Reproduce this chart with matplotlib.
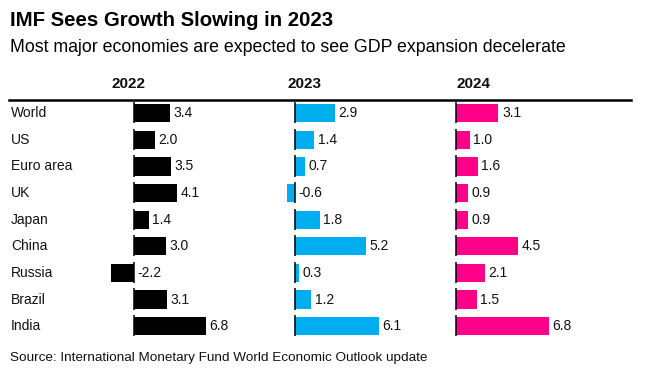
import matplotlib
matplotlib.use("Agg")
import matplotlib.pyplot as plt

plt.rcParams['font.family'] = ['Liberation Sans', 'DejaVu Sans']

countries = ["World", "US", "Euro area", "UK", "Japan", "China", "Russia", "Brazil", "India"]
years = ["2022", "2023", "2024"]
growth_2022 = [3.4, 2.0, 3.5, 4.1, 1.4, 3.0, -2.2, 3.1, 6.8]
growth_2023 = [2.9, 1.4, 0.7, -0.6, 1.8, 5.2, 0.3, 1.2, 6.1]
growth_2024 = [3.1, 1.0, 1.6, 0.9, 0.9, 4.5, 2.1, 1.5, 6.8]
colors = ["#000000", "#00aeef", "#ff0088"]

W, H = 651, 386
fig = plt.figure(figsize=(W / 100, H / 100), dpi=100)

def fx(px):
    return px / W

def fy(py):
    return 1 - py / H

# column layout in pixels: left, right, zero position, px per unit
cols = [(100, 262, 134, 10.6), (270, 432, 295, 13.7), (440, 631, 456, 13.7)]
header_x = [129, 305, 474]
top, row_h = 100, 26.6
n = len(countries)

for k, (vals, (l, r, z, s)) in enumerate(zip([growth_2022, growth_2023, growth_2024], cols)):
    ax = fig.add_axes([fx(l), fy(top + n * row_h), fx(r - l), (n * row_h) / H])
    ax.set_xlim((l - z) / s, (r - z) / s)
    ax.set_ylim(n - 0.5, -0.5)
    ax.axis("off")
    ypos = list(range(n))
    ax.barh(ypos, vals, height=0.68, color=colors[k])
    ax.vlines([0] * n, [y - 0.42 for y in ypos], [y + 0.38 for y in ypos], color="black", lw=1.1)
    for y, v in zip(ypos, vals):
        ax.annotate(f"{v:.1f}", (max(v, 0), y), xytext=(3.5, 0), textcoords="offset pixels",
                    ha="left", va="center", fontsize=10, color="#111111")
    fig.text(fx(header_x[k]), fy(84.5), years[k], ha="center", va="center",
             fontsize=11, fontweight="bold", color="#111111")

for i, c in enumerate(countries):
    fig.text(fx(11), fy(top + row_h * (i + 0.5)), c, ha="left", va="center",
             fontsize=10, color="#111111")

# rule under the headers
fig.add_artist(plt.Line2D([fx(9), fx(631)], [fy(100), fy(100)], color="black", lw=1.8))

fig.text(fx(10), fy(26.5), "IMF Sees Growth Slowing in 2023", ha="left", va="baseline",
         fontsize=14.7, fontweight="bold", color="black")
fig.text(fx(10), fy(51.5), "Most major economies are expected to see GDP expansion decelerate",
         ha="left", va="baseline", fontsize=12.75, color="black")
fig.text(fx(10), fy(361), "Source: International Monetary Fund World Economic Outlook update",
         ha="left", va="baseline", fontsize=9.7, color="#111111")

fig.savefig("out.png", dpi=100, facecolor="white")
